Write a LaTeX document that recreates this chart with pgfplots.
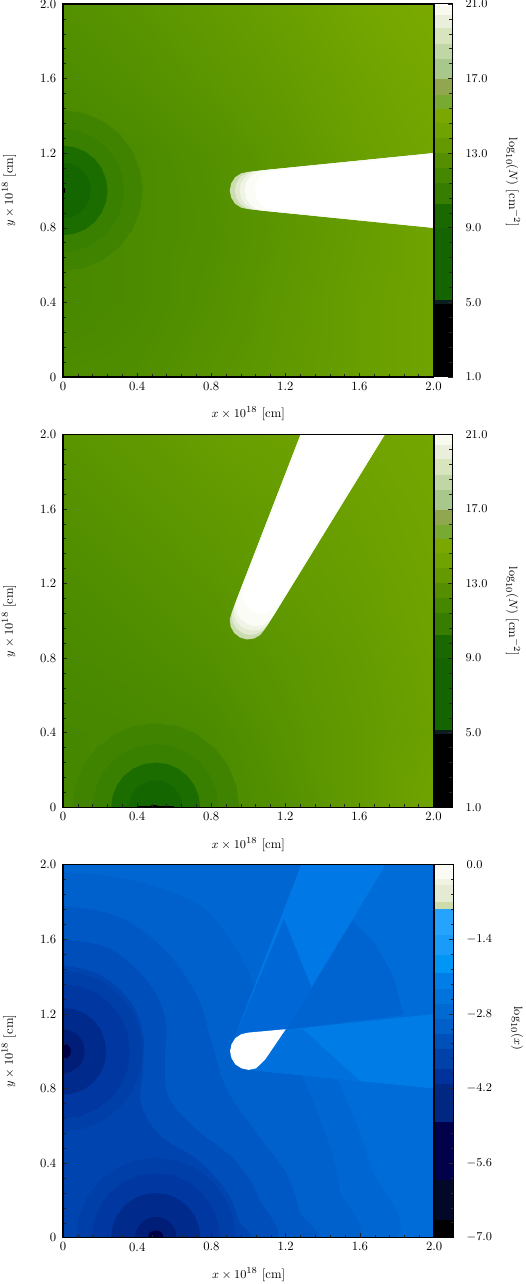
\documentclass[border=0pt]{standalone}
\usepackage{pgfplots}
\pgfplotsset{compat=1.18}

% filled polygon, colour as r g b then the points
\newcommand{\poly}[4]{\addplot[draw=none,fill={rgb,255:red,#1;green,#2;blue,#3}] coordinates {#4};}
% same with a smoothed outline, for the contours of the bottom panel
\newcommand{\spoly}[4]{\addplot[draw=none,smooth,tension=0.6,fill={rgb,255:red,#1;green,#2;blue,#3}] coordinates {#4};}
% colourbar band: paints everything below #4, so go from the top down
\newcommand{\band}[4]{\addplot[draw=none,fill={rgb,255:red,#1;green,#2;blue,#3}] coordinates {(0,-100)(1,-100)(1,#4)(0,#4)};}

\newcommand{\labfont}{\fontsize{9.5}{11}\selectfont}

\pgfplotsset{
  panel/.style={
    scale only axis, width=277.9pt, height=279.75pt, anchor=south west,
    xmin=0, xmax=2, ymin=0, ymax=2, axis on top,
    xtick={0,0.4,0.8,1.2,1.6,2.0}, ytick={0,0.4,0.8,1.2,1.6,2.0},
    xticklabels={0,0.4,0.8,1.2,1.6,2.0}, yticklabels={0,0.4,0.8,1.2,1.6,2.0},
    minor tick num=4, xtick pos=bottom, ytick pos=left, tick align=inside,
    major tick length=3.2pt, minor tick length=2.4pt,
    tick style={black!85,line width=0.4pt}, axis line style={line width=0.8pt},
    tick label style={font=\labfont}, label style={font=\labfont},
    xlabel={$x\times 10^{18}$ [cm]}, ylabel={$y\times 10^{18}$ [cm]},
    x label style={at={(axis description cs:0.5,-0.099)},anchor=center},
    y label style={at={(axis description cs:-0.146,0.5)},anchor=center},
    yticklabel style={xshift=-1.5pt},
    colormap={gr}{rgb255=(55,125,0) rgb255=(122,170,0)},
    point meta min=11.4, point meta max=15.4,
  },
  cbar/.style={
    scale only axis, width=14.25pt, height=279.75pt, anchor=south west,
    xmin=0, xmax=1, axis on top, xtick=\empty,
    ytick pos=right, yticklabel pos=right, tick align=inside, minor tick num=4,
    major tick length=3.2pt, minor tick length=2.4pt,
    tick style={black!85,line width=0.4pt}, axis line style={line width=0.8pt},
    tick label style={font=\labfont}, label style={font=\labfont},
    yticklabel style={anchor=west,xshift=6.2pt,
      /pgf/number format/.cd,fixed,fixed zerofill,precision=1,/tikz/.cd},
  },
}

\newcommand{\greenbar}{%
  \band{255}{255}{255}{21}
  \band{248}{250}{240}{20.89}
  \band{234}{239}{219}{20.41}
  \band{215}{228}{190}{19.69}
  \band{192}{214}{165}{18.84}
  \band{168}{199}{139}{18.03}
  \band{144}{167}{80}{16.96}
  \band{120}{170}{50}{16.13}
  \band{122}{168}{0}{15.38}
  \band{112}{162}{0}{14.63}
  \band{100}{153}{0}{13.82}
  \band{85}{143}{0}{13.02}
  \band{70}{135}{0}{12.22}
  \band{55}{125}{0}{11.41}
  \band{25}{105}{0}{10.25}
  \band{20}{100}{0}{9.0}
  \band{10}{30}{30}{5.15}
  \band{0}{0}{0}{4.93}
  \addplot[black,line width=2pt] coordinates {(0,1)(0,21)};
}

\begin{document}
\begin{tikzpicture}
\path[use as bounding box] (0,0) rectangle (393.75pt,963pt);

% ---------- top panel
\begin{axis}[panel, at={(47.25pt,680.25pt)}]
\addplot[surf,shader=interp,mesh/rows=6,mesh/cols=6,point meta=\thisrow{v}] table {
x y v
0 0 12.77
0.4 0 12.9
0.8 0 13.37
1.2 0 13.85
1.6 0 14.33
2 0 14.8
0 0.4 12.4
0.4 0.4 12.65
0.8 0.4 13.13
1.2 0.4 13.73
1.6 0.4 14.33
2 0.4 14.8
0 0.8 12.4
0.4 0.8 12.65
0.8 0.8 13.0
1.2 0.8 13.6
1.6 0.8 14.2
2 0.8 14.8
0 1.2 12.4
0.4 1.2 12.65
0.8 1.2 13.13
1.2 1.2 13.73
1.6 1.2 14.45
2 1.2 14.92
0 1.6 12.77
0.4 1.6 13.13
0.8 1.6 13.6
1.2 1.6 14.09
1.6 1.6 14.68
2 1.6 15.16
0 2 13.13
0.4 2 13.5
0.8 2 13.97
1.2 2 14.45
1.6 2 15.04
2 2 15.4
};
\poly{63}{131}{0}{(0,1.43)(.111,1.415)(.215,1.372)(.304,1.304)(.372,1.215)(.415,1.111)(.43,1)(.415,.889)(.372,.785)(.304,.696)(.215,.628)(.111,.585)(0,.57)}
\poly{57}{127}{0}{(0,1.33)(.085,1.319)(.165,1.286)(.233,1.233)(.286,1.165)(.319,1.085)(.33,1)(.319,.915)(.286,.835)(.233,.767)(.165,.714)(.085,.681)(0,.67)}
\poly{28}{109}{0}{(0,1.24)(.062,1.232)(.12,1.208)(.17,1.17)(.208,1.12)(.232,1.062)(.24,1)(.232,.938)(.208,.88)(.17,.83)(.12,.792)(.062,.768)(0,.76)}
\poly{20}{103}{0}{(0,1.15)(.039,1.145)(.075,1.13)(.106,1.106)(.13,1.075)(.145,1.039)(.15,1)(.145,.961)(.13,.925)(.106,.894)(.075,.87)(.039,.855)(0,.85)}
\poly{0}{0}{0}{(0,1.02)(.012,1.01)(.012,.99)(0,.98)}
% jet, shifted caps
\poly{203}{219}{178}{(1,1.1)(.962,1.092)(.929,1.071)(.908,1.038)(.9,1)(.908,.962)(.929,.929)(.962,.908)(1,.9)(2.05,.795)(2.05,1.205)}
\poly{226}{235}{210}{(1.03,1.103)(.991,1.095)(.957,1.073)(.935,1.039)(.927,1)(.935,.961)(.957,.927)(.991,.905)(1.03,.897)(2.05,.795)(2.05,1.205)}
\poly{240}{244}{230}{(1.06,1.106)(1.019,1.098)(.985,1.075)(.962,1.041)(.954,1)(.962,.959)(.985,.925)(1.019,.902)(1.06,.894)(2.05,.795)(2.05,1.205)}
\poly{250}{252}{245}{(1.09,1.109)(1.048,1.101)(1.013,1.077)(.989,1.042)(.981,1)(.989,.958)(1.013,.923)(1.048,.899)(1.09,.891)(2.05,.795)(2.05,1.205)}
\poly{255}{255}{255}{(1.14,1.105)(1.1,1.097)(1.066,1.074)(1.043,1.04)(1.035,1)(1.043,.96)(1.066,.926)(1.1,.903)(1.14,.895)(2.05,.80)(2.05,1.20)}
\end{axis}
\begin{axis}[cbar, at={(325.15pt,680.25pt)}, ymin=1, ymax=21, ytick={1,5,9,13,17,21},
  ylabel={$\log_{10}(N)$ [cm$^{-2}$]},
  y label style={at={(axis description cs:4.186,0.521)},anchor=center,rotate=180}]
\greenbar
\end{axis}

% ---------- middle panel
\begin{axis}[panel, at={(47.25pt,357.5pt)}]
\addplot[surf,shader=interp,mesh/rows=6,mesh/cols=6,point meta=\thisrow{v}] table {
x y v
0 0 12.3
0.4 0 12.4
0.8 0 12.53
1.2 0 13.13
1.6 0 13.97
2 0 14.8
0 0.4 12.3
0.4 0.4 12.4
0.8 0.4 12.65
1.2 0.4 13.37
1.6 0.4 13.97
2 0.4 14.56
0 0.8 12.53
0.4 0.8 12.77
0.8 0.8 13.13
1.2 0.8 13.6
1.6 0.8 14.09
2 0.8 14.68
0 1.2 12.77
0.4 1.2 13.13
0.8 1.2 13.5
1.2 1.2 13.97
1.6 1.2 14.33
2 1.2 14.8
0 1.6 13.13
0.4 1.6 13.5
0.8 1.6 13.85
1.2 1.6 14.2
1.6 1.6 14.56
2 1.6 14.92
0 2 13.5
0.4 2 13.85
0.8 2 14.33
1.2 2 14.56
1.6 2 14.8
2 2 15.04
};
\poly{63}{131}{0}{(.05,0)(.065,.116)(.11,.225)(.182,.318)(.275,.39)(.384,.435)(.5,.45)(.616,.435)(.725,.39)(.818,.318)(.89,.225)(.935,.116)(.95,0)}
\poly{57}{127}{0}{(.16,0)(.172,.088)(.206,.17)(.26,.24)(.33,.294)(.412,.328)(.5,.34)(.588,.328)(.67,.294)(.74,.24)(.794,.17)(.828,.088)(.84,0)}
\poly{28}{109}{0}{(.26,0)(.268,.062)(.292,.12)(.33,.17)(.38,.208)(.438,.232)(.5,.24)(.562,.232)(.62,.208)(.67,.17)(.708,.12)(.732,.062)(.74,0)}
\poly{20}{103}{0}{(.355,0)(.36,.038)(.374,.073)(.397,.103)(.427,.126)(.46,.14)(.5,.145)(.54,.14)(.573,.126)(.603,.103)(.626,.073)(.64,.038)(.645,0)}
\poly{0}{0}{0}{(.4,0)(.4,.006)(.47,.006)(.48,.012)(.5,.012)(.52,.006)(.6,.006)(.6,0)}
\poly{203}{219}{178}{(.911,1.045)(.900,1.008)(.905,.969)(.924,.935)(.955,.911)(.992,.900)(1.031,.905)(1.065,.924)(1.089,.955)(1.768,2.05)(1.303,2.05)}
\poly{226}{235}{210}{(.922,1.074)(.911,1.035)(.916,.995)(.936,.960)(.967,.935)(1.006,.924)(1.046,.929)(1.081,.949)(1.106,.980)(1.768,2.05)(1.303,2.05)}
\poly{240}{244}{230}{(.933,1.101)(.921,1.061)(.926,1.020)(.946,.984)(.979,.959)(1.019,.947)(1.060,.952)(1.096,.972)(1.121,1.005)(1.768,2.05)(1.303,2.05)}
\poly{250}{252}{245}{(.944,1.129)(.932,1.089)(.937,1.046)(.958,1.009)(.992,.983)(1.032,.971)(1.075,.976)(1.112,.997)(1.138,1.031)(1.768,2.05)(1.303,2.05)}
\poly{255}{255}{255}{(.979,1.191)(.968,1.151)(.973,1.111)(.993,1.075)(1.025,1.049)(1.065,1.038)(1.105,1.043)(1.141,1.063)(1.167,1.095)(1.755,2.05)(1.315,2.05)}
\end{axis}
\begin{axis}[cbar, at={(325.15pt,357.5pt)}, ymin=1, ymax=21, ytick={1,5,9,13,17,21},
  ylabel={$\log_{10}(N)$ [cm$^{-2}$]},
  y label style={at={(axis description cs:4.186,0.525)},anchor=center,rotate=180}]
\greenbar
\end{axis}

% ---------- bottom panel
\begin{axis}[panel, at={(47.25pt,34.7pt)}, width=278.4pt]
\poly{0}{108}{216}{(-.05,-.05)(2.05,-.05)(2.05,2.05)(-.05,2.05)}
\spoly{0}{103}{210}{(-.05,2.05)(1.3,2.05)(1.25,1.6)(1.3,1.2)(1.5,.8)(1.65,.4)(1.7,-.05)(-.05,-.05)}
\spoly{0}{96}{204}{(-.05,1.96)(0,1.96)(.25,1.94)(.5,1.88)(.74,1.78)(.9,1.6)(1.03,1.35)(1.08,1.1)(1.2,.95)(1.29,.857)(1.43,.51)(1.49,.26)(1.49,-.05)(-.05,-.05)}
\spoly{0}{88}{196}{(-.05,1.78)(0,1.78)(.3,1.72)(.55,1.54)(.72,1.3)(.8,1.05)(.88,.8)(1.05,.55)(1.2,.35)(1.27,.15)(1.28,-.05)(-.05,-.05)}
\spoly{0}{78}{186}{(-.05,1.6)(0,1.6)(.25,1.55)(.45,1.38)(.55,1.18)(.55,.95)(.57,.75)(.72,.58)(.92,.42)(1.05,.22)(1.08,-.05)(-.05,-.05)}
\spoly{0}{68}{176}{(-.05,1.46)(0,1.46)(.2,1.41)(.36,1.27)(.43,1.1)(.43,.9)(.42,.72)(.52,.55)(.72,.42)(.88,.25)(.94,.1)(.95,-.05)(-.05,-.05)}
% rings round the source at (0,1)
\poly{0}{62}{168}{(0,1.43)(.111,1.415)(.215,1.372)(.304,1.304)(.372,1.215)(.415,1.111)(.43,1)(.415,.889)(.372,.785)(.304,.696)(.215,.628)(.111,.585)(0,.57)}
\poly{0}{55}{160}{(0,1.36)(.093,1.348)(.18,1.312)(.255,1.255)(.312,1.18)(.348,1.093)(.36,1)(.348,.907)(.312,.82)(.255,.745)(.18,.688)(.093,.652)(0,.64)}
\poly{0}{42}{140}{(0,1.233)(.06,1.225)(.117,1.202)(.165,1.165)(.202,1.117)(.225,1.06)(.233,1)(.225,.94)(.202,.883)(.165,.835)(.117,.798)(.06,.775)(0,.767)}
\poly{0}{30}{120}{(0,1.117)(.03,1.113)(.059,1.101)(.083,1.083)(.101,1.059)(.113,1.03)(.117,1)(.113,.97)(.101,.941)(.083,.917)(.059,.899)(.03,.887)(0,.883)}
\poly{0}{0}{70}{(0,1.043)(.022,1.037)(.037,1.022)(.043,1)(.037,.978)(.022,.963)(0,.957)}
% rings round the source at (0.5,0)
\poly{0}{62}{168}{(.07,0)(.085,.111)(.128,.215)(.196,.304)(.285,.372)(.389,.415)(.5,.43)(.611,.415)(.715,.372)(.804,.304)(.872,.215)(.915,.111)(.93,0)}
\poly{0}{55}{160}{(.155,0)(.167,.089)(.201,.173)(.256,.244)(.327,.299)(.411,.333)(.5,.345)(.589,.333)(.673,.299)(.744,.244)(.799,.173)(.833,.089)(.845,0)}
\poly{0}{42}{140}{(.26,0)(.268,.062)(.292,.12)(.33,.17)(.38,.208)(.438,.232)(.5,.24)(.562,.232)(.62,.208)(.67,.17)(.708,.12)(.732,.062)(.74,0)}
\poly{0}{30}{120}{(.388,0)(.392,.029)(.403,.056)(.421,.079)(.444,.097)(.471,.108)(.5,.112)(.529,.108)(.556,.097)(.579,.079)(.597,.056)(.608,.029)(.612,0)}
\poly{0}{0}{70}{(.46,0)(.463,.02)(.472,.032)(.5,.04)(.528,.032)(.537,.02)(.54,0)}
% jet shadows
\poly{0}{100}{208}{(1.2,1.115)(1.56,1.70)(1.68,1.58)(1.78,1.4)(1.835,1.195)}
\poly{0}{120}{229}{(.915,1.05)(1.303,2.05)(1.768,2.05)(1.2,1.115)}
\poly{0}{104}{214}{(.915,1.05)(1.19,1.71)(1.34,1.34)(1.2,1.115)}
\poly{0}{124}{231}{(1,.9)(2.05,.795)(2.05,1.205)(1.2,1.115)}
\poly{0}{112}{221}{(1,.9)(1.6,.84)(1.29,1.12)(1.2,1.115)}
\poly{255}{255}{255}{(1.2,1.118)(1,1.1)(.962,1.092)(.929,1.071)(.908,1.038)(.9,1)(.908,.962)(.929,.929)(.962,.908)(1,.9)(1.04,.908)(1.089,.955)}
\end{axis}
\begin{axis}[cbar, at={(325.5pt,34.7pt)}, width=14.8pt, ymin=-7, ymax=0, ytick={-7,-5.6,-4.2,-2.8,-1.4,0},
  ylabel={$\log_{10}(x)$},
  y label style={at={(axis description cs:4.21,0.561)},anchor=center,rotate=180}]
\band{250}{251}{244}{0}
\band{240}{243}{225}{-.26}
\band{228}{235}{210}{-.39}
\band{205}{220}{170}{-.70}
\band{38}{162}{255}{-.825}
\band{25}{155}{250}{-1.325}
\band{0}{150}{245}{-1.69}
\band{0}{125}{230}{-2.04}
\band{0}{115}{220}{-2.325}
\band{0}{105}{210}{-2.61}
\band{0}{95}{200}{-2.89}
\band{0}{80}{185}{-3.17}
\band{0}{65}{170}{-3.45}
\band{0}{50}{155}{-3.83}
\band{0}{40}{130}{-4.11}
\band{0}{0}{75}{-4.825}
\band{2}{8}{40}{-5.92}
\band{0}{0}{0}{-6.67}
\addplot[black,line width=2pt] coordinates {(0,-7)(0,0)};
\end{axis}
\end{tikzpicture}
\end{document}
